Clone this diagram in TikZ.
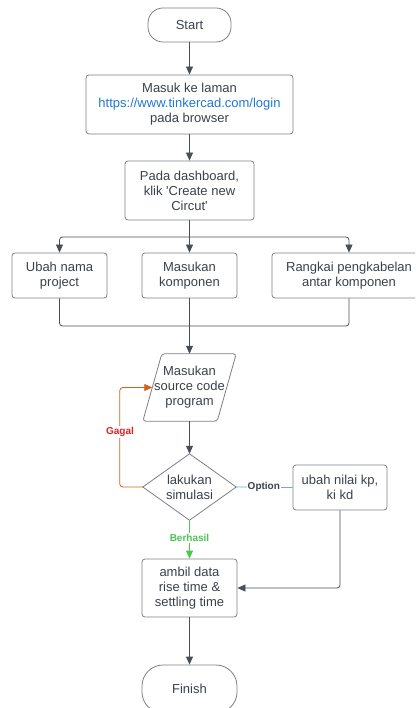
\documentclass[tikz,border=0pt]{standalone}
\usepackage{fontspec}
\setmainfont{Liberation Sans}[Ligatures=TeXOff]
\usetikzlibrary{arrows.meta,calc}
\definecolor{txt}{HTML}{3A414A}
\definecolor{brd}{HTML}{7B7F85}
\definecolor{ln}{HTML}{4A4F57}
\definecolor{url}{HTML}{1F78D1}
\definecolor{org}{HTML}{D0621C}
\definecolor{redl}{HTML}{E02020}
\definecolor{grn}{HTML}{4CC552}
\definecolor{blu}{HTML}{6FA8DC}
\begin{document}
\begin{tikzpicture}[x=1pt,y=-1pt,
  font=\fontsize{13}{15}\selectfont, text=txt,
  boxn/.style={draw=brd, line width=0.8pt, rounded corners=3pt, align=center, inner sep=0pt},
  term/.style={draw=brd, line width=0.8pt, align=center, inner sep=0pt},
  ghost/.style={draw=none, align=center, inner sep=0pt},
  arr/.style={draw=ln, line width=0.8pt, -{Triangle[length=8pt,width=7pt]}},
  plain/.style={draw=ln, line width=0.8pt},
  lab/.style={font=\fontsize{10}{12}\selectfont\bfseries, fill=white, inner sep=1pt}]
\useasboundingbox (0,0) rectangle (415,708);
\clip (0,0) rectangle (415,708);

\node[term, rounded corners=15pt, minimum width=83, minimum height=34] (s) at (189.5,25) {Start};
\node[boxn, minimum width=207, minimum height=59] (b1) at (189.5,104.5)
  {Masuk ke laman\\\textcolor{url}{https://www.tinkercad.com/login}\\pada browser};
\node[boxn, minimum width=129, minimum height=59] (b2) at (189.5,190.5)
  {Pada dashboard,\\klik 'Create new\\Circut'};
\node[boxn, minimum width=95, minimum height=45] (b3) at (59.5,275.5) {Ubah nama\\project};
\node[boxn, minimum width=95, minimum height=45] (b4) at (189.5,275.5) {Masukan\\komponen};
\node[boxn, minimum width=154, minimum height=45] (b5) at (349,275.5) {Rangkai pengkabelan\\antar komponen};

\node[ghost, minimum width=93, minimum height=67] (p) at (189.5,387.5) {Masukan\\source code\\program};
\draw[brd, line width=0.8pt, rounded corners=3pt]
  ($(p.north west)+(19,0)$) -- (p.north east) -- ($(p.south east)+(-19,0)$) -- (p.south west) -- cycle;
\coordinate (pl) at ($(p.west)+(9.5,0)$);

\node[ghost, minimum width=93, minimum height=66] (d) at (189.5,487) {lakukan\\simulasi};
\draw[brd, line width=0.8pt] (d.north) -- (d.east) -- (d.south) -- (d.west) -- cycle;

\node[boxn, minimum width=94, minimum height=45] (o) at (340,487.5) {ubah nilai kp,\\ki kd};
\node[boxn, minimum width=95, minimum height=58] (a) at (189.5,588) {ambil data\\rise time \&\\settling time};
\node[term, rounded corners=21pt, minimum width=95, minimum height=48] (f) at (189.5,689) {Finish};

\draw[arr] (s) -- (b1);
\draw[arr] (b1) -- (b2);
\coordinate (j1) at (189.5,237);
\draw[plain] (b2.south) -- (j1);
\draw[arr, rounded corners=3pt] (j1) -| (b3.north);
\draw[arr, rounded corners=3pt] (j1) -| (b5.north);
\draw[arr] (j1) -- (b4.north);
\coordinate (j2) at (189.5,326);
\draw[plain, rounded corners=3pt] (b3.south) |- (j2);
\draw[plain, rounded corners=3pt] (b5.south) |- (j2);
\draw[plain] (b4.south) -- (j2);
\draw[arr] (j2) -- (p.north);
\draw[arr] (p.south) -- (d.north);

\draw[arr, draw=org, rounded corners=3pt] (d.west) -- ++(-23,0) |- (pl);
\node[lab, text=redl] (gl) at (120,432) {Gagal};

\draw[blu, line width=0.8pt] (d.east) -- node[lab, text=txt, pos=0.49] (ol) {Option} (o.west);
\draw[arr, draw=grn] (d.south) -- node[lab, text=grn, pos=0.46] (bl) {Berhasil} (a.north);
\draw[arr, rounded corners=3pt] (o.south) |- (a.east);
\draw[arr] (a) -- (f);
\end{tikzpicture}
\end{document}
